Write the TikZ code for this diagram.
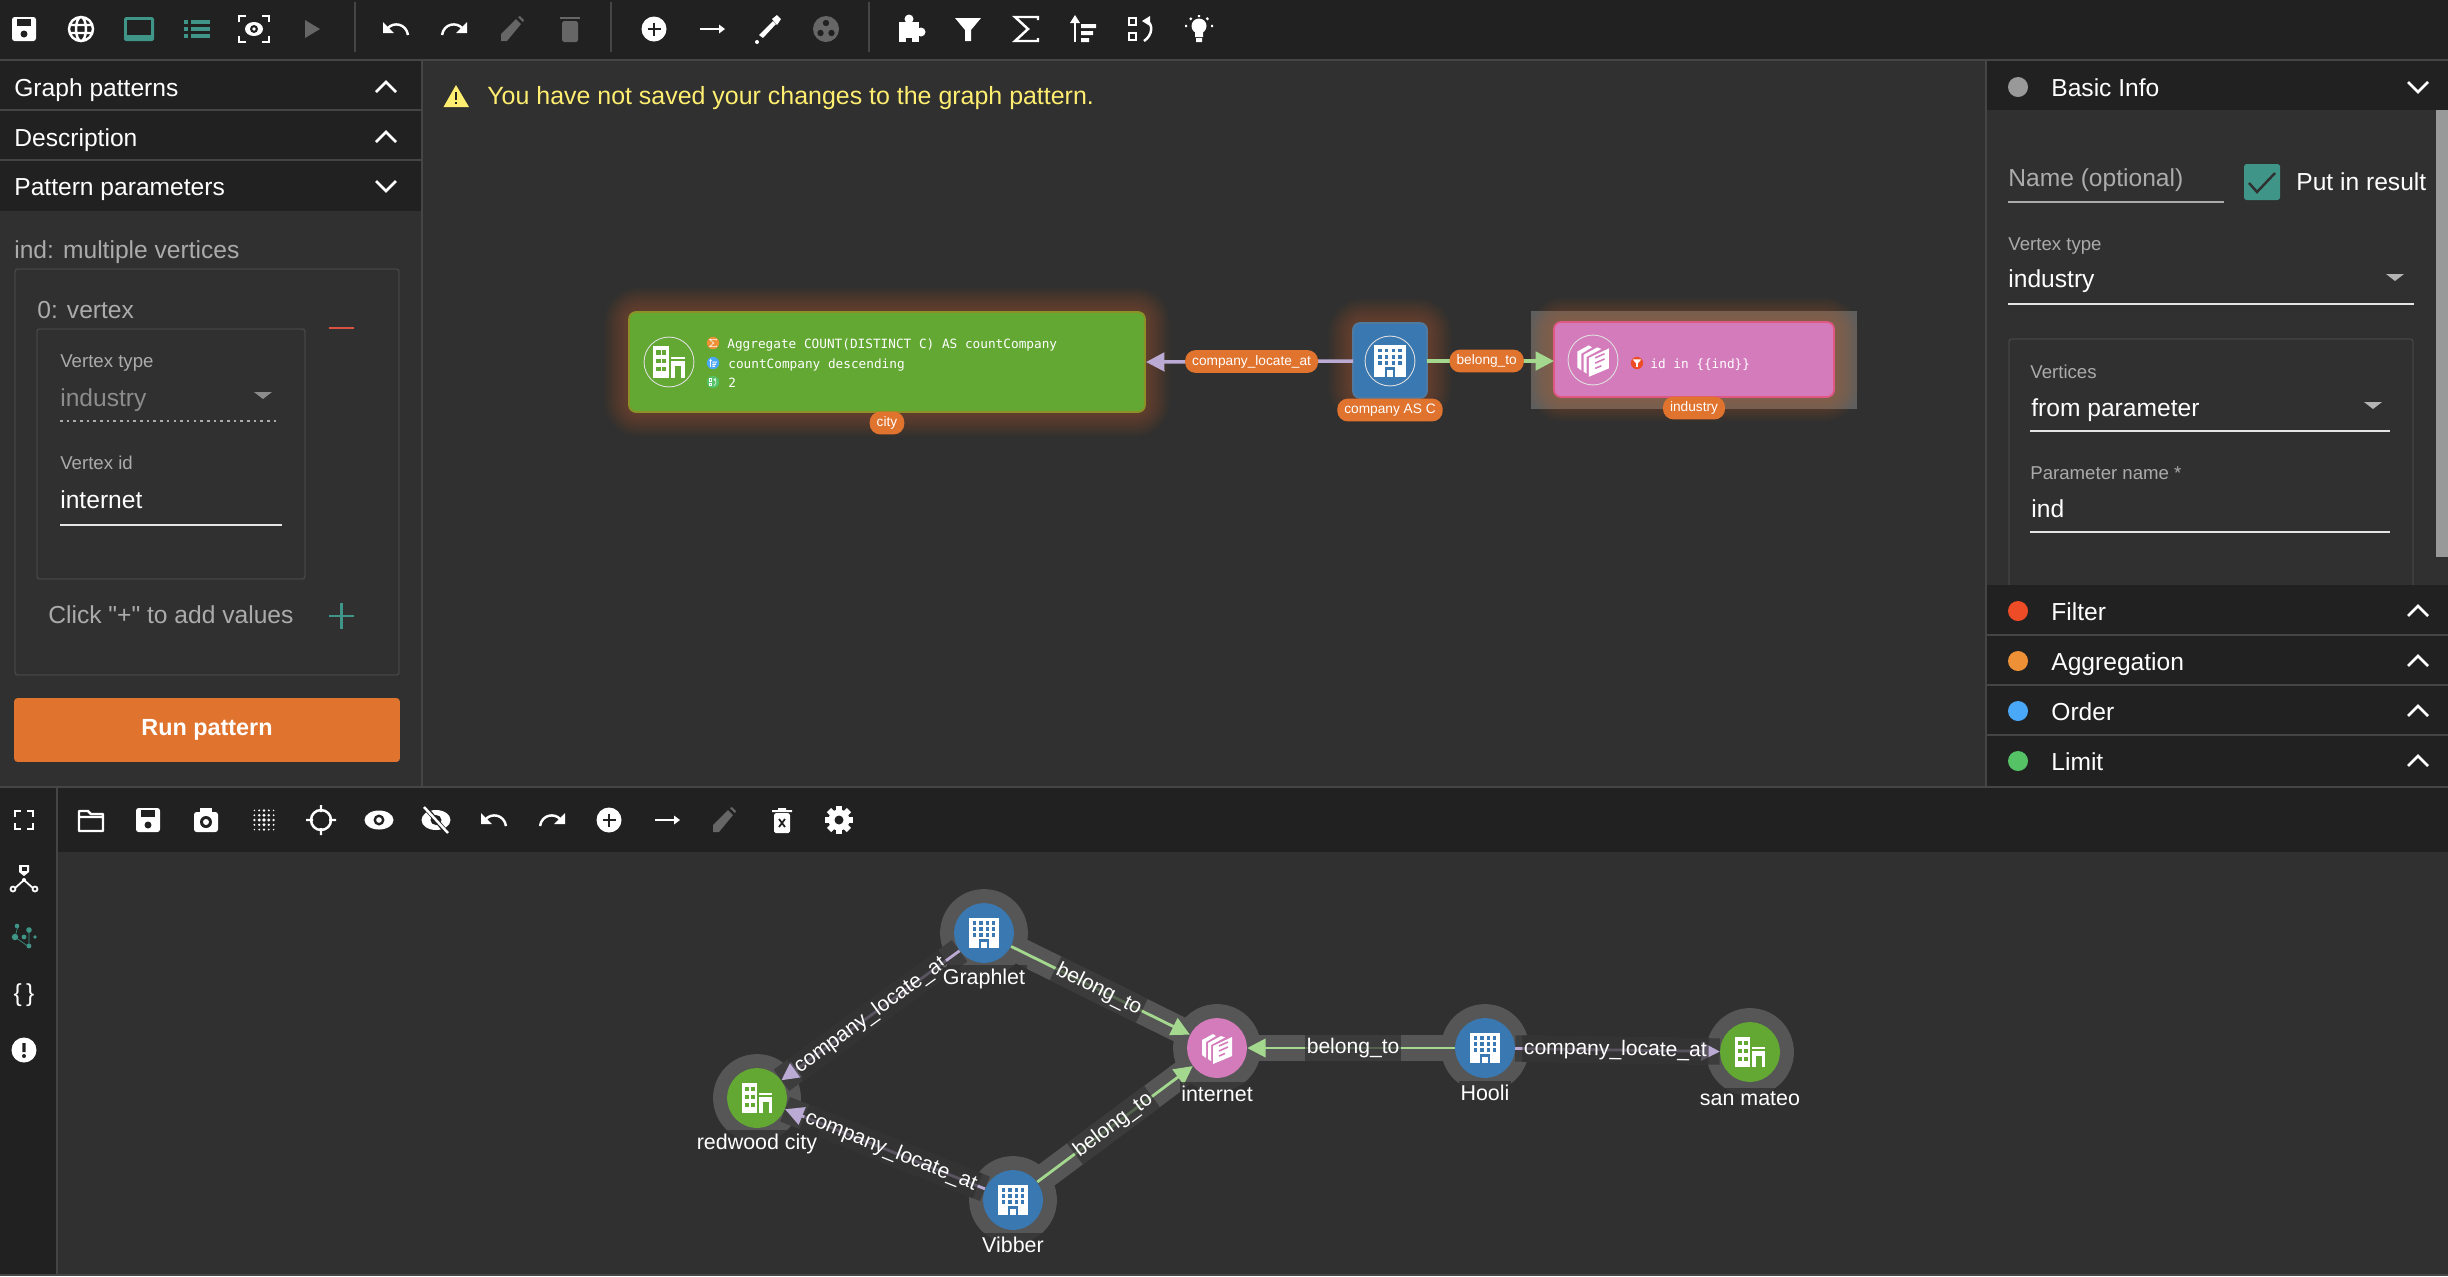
\documentclass[tikz,border=0pt]{standalone}
\usepackage{fontspec}
\setmainfont{Liberation Sans}[Ligatures=TeXOff]
\setmonofont{DejaVu Sans Mono}
\usetikzlibrary{arrows.meta}

\definecolor{canvasbg}{HTML}{303030}
\definecolor{barbg}{HTML}{212121}
\definecolor{rulegrey}{HTML}{454545}
\definecolor{dimtext}{HTML}{ABABAB}
\definecolor{icongrey}{HTML}{666666}
\definecolor{tealui}{HTML}{3F9688}
\definecolor{runorange}{HTML}{E0732D}
\definecolor{warnyellow}{HTML}{FFEE70}
\definecolor{citygreen}{HTML}{62A832}
\definecolor{companyblue}{HTML}{3A78B1}
\definecolor{industrypink}{HTML}{D47CBB}
\definecolor{belongline}{HTML}{A5D88F}
\definecolor{locateline}{HTML}{BAAAD4}
\definecolor{haloband}{HTML}{565656}
\definecolor{darkband}{HTML}{3D3D3D}
\definecolor{filterdotcol}{HTML}{EE4C27}
\definecolor{aggdotcol}{HTML}{EE9035}
\definecolor{orderdotcol}{HTML}{4AA8F8}
\definecolor{limitdotcol}{HTML}{55C266}
\definecolor{minusred}{HTML}{DC5240}
\colorlet{cutcol}{barbg}

\tikzset{
    iconline/.style={line width=1.4pt},
    basetext/.style={inner sep=0pt, anchor=west, text height=.75em, text depth=.22em},
    headtext/.style={basetext, yshift=-2.6pt, text=white, font=\fontsize{14}{16}\selectfont},
    dimhead/.style={basetext, yshift=-2.6pt, text=dimtext, font=\fontsize{14}{16}\selectfont},
    smalltext/.style={basetext, yshift=-1.3pt, text=dimtext, font=\fontsize{10.6}{12}\selectfont},
    glowline/.style={draw=runorange, opacity=.028, rounded corners=6pt},
    pill/.style={fill=runorange, text=white, rounded corners=6pt, inner xsep=4pt, inner ysep=0pt,
        minimum height=13pt, font=\fontsize{7.8}{9}\selectfont},
    monotext/.style={basetext, yshift=-.5pt, text=white, font=\fontsize{7.25}{9}\ttfamily},
    patternbox/.style={rounded corners=4pt, line width=1pt},
    iconring/.style={circle, draw=white!75!gray, line width=.5pt, minimum size=28.4pt, inner sep=0pt},
    minidot/.style={circle, minimum size=7pt, inner sep=0pt},
    rowdot/.style={circle, minimum size=11.4pt, inner sep=0pt},
    patternedge/.style={line width=2pt, -{Stealth[inset=0pt,length=10.5pt,width=10.5pt]}},
    vertexdisc/.style={circle, minimum size=34pt, inner sep=0pt},
    halodisc/.style={circle, fill=haloband, minimum size=50pt, inner sep=0pt},
    vertexlabel/.style={yshift=-.3pt, fill=canvasbg, fill opacity=.75, text opacity=1, text=white, inner xsep=1pt, inner ysep=2pt,
        font=\fontsize{12.2}{14}\selectfont},
    edgeband/.style={line width=15pt},
    vertexedge/.style={line width=1.6pt, -{Stealth[inset=0pt,length=10.5pt,width=10.5pt]}},
    edgelabel/.style={sloped, fill=canvasbg, fill opacity=.7, text opacity=1, text=white, inner xsep=1pt, inner ysep=0pt,
        minimum height=15pt, font=\fontsize{12}{14}\selectfont},
    % toolbar glyphs
    pics/savedisk/.style={code={
        \fill[rounded corners=1.5pt] (-12,-12) rectangle (12,12);
        \fill[barbg] (-7,-10) rectangle (7,-3);
        \fill[barbg] (0,5) circle (3.5);}},
    pics/globeicon/.style={code={
        \draw[iconline] (0,0) circle (12) (0,0) ellipse (5 and 12) (-12,-4) -- (12,-4) (-12,4) -- (12,4);}},
    pics/screenicon/.style={code={
        \fill[rounded corners=1pt] (-15,-12) rectangle (15,12);
        \fill[barbg] (-12,-9) rectangle (12,6);}},
    pics/listicon/.style={code={
        \foreach \ly in {-7,0,7} {
            \fill (-13,\ly-1.7) rectangle (-9,\ly+1.7);
            \fill (-6,\ly-1.7) rectangle (13,\ly+1.7);}}},
    pics/focusicon/.style={code={
        \draw[iconline] (-15,-7) -- (-15,-13) -- (-8,-13) (8,-13) -- (15,-13) -- (15,-7)
            (15,7) -- (15,13) -- (8,13) (-8,13) -- (-15,13) -- (-15,7);
        \fill (0,0) ellipse (9 and 7);
        \fill[barbg] (0,0) circle (4);
        \fill (0,0) circle (1.8);}},
    pics/playicon/.style={code={\fill (-7,-9) -- (8,0) -- (-7,9) -- cycle;}},
    pics/undoicon/.style={code={
        \draw[iconline] (12,6) .. controls (10,-6) and (-3,-7) .. (-8,-1);
        \fill (-13,-7) -- (-13,4) -- (-2,4) -- cycle;}},
    pics/redoicon/.style={code={
        \draw[iconline] (-12,6) .. controls (-10,-6) and (3,-7) .. (8,-1);
        \fill (13,-7) -- (13,4) -- (2,4) -- cycle;}},
    pics/pencilicon/.style={code={
        \fill (-11,12) -- (-11,5) -- (4,-10) -- (9,-5) -- (-5,12) -- cycle;
        \fill (6,-12) -- (8,-13) -- (12,-9) -- (11,-7) -- cycle;}},
    pics/trashicon/.style={code={
        \fill[rounded corners=1pt] (-8,-8) rectangle (8,13);
        \fill (-10,-12) rectangle (10,-10);}},
    pics/plusdisc/.style={code={
        \fill (0,0) circle (12.5);
        \draw[barbg, iconline] (-6.5,0) -- (6.5,0) (0,-6.5) -- (0,6.5);}},
    pics/arrowicon/.style={code={
        \draw[iconline] (-12,0) -- (8,0);
        \fill (7,-4.5) -- (13,0) -- (7,4.5) -- cycle;}},
    pics/droppericon/.style={code={
        \fill (-9,6) -- (5,-8) -- (8,-5) -- (-5,9) -- cycle;
        \fill (4,-10) -- (9,-14) -- (13,-10) -- (9,-4) -- cycle;
        \fill (-11,13) circle (2);}},
    pics/paletteicon/.style={code={
        \fill (0,0) circle (13);
        \fill[barbg] (0,-6) circle (3.2) (-5.5,4) circle (3.2) (5.5,4) circle (3.2);}},
    pics/puzzleicon/.style={code={
        \fill (-11,-7) rectangle (9,13);
        \fill (-1,-10) circle (4.5);
        \fill (11,3) circle (4.5);
        \fill[barbg] (-4,9) rectangle (2,14);}},
    pics/funnelicon/.style={code={\fill (-13,-11) -- (13,-11) -- (3,1) -- (3,12) -- (-3,12) -- (-3,1) -- cycle;}},
    pics/sigmaicon/.style={code={\draw[iconline] (12,-9) -- (12,-12) -- (-11,-12) -- (2,0) -- (-11,12) -- (12,12) -- (12,9);}},
    pics/sorticon/.style={code={
        \draw[iconline] (-8,13) -- (-8,-6);
        \fill (-13,-6) -- (-8,-14) -- (-3,-6) -- cycle;
        \fill (-2,-5) rectangle (13,-1) (-2,2) rectangle (10,6) (-2,9) rectangle (6,13);}},
    pics/limiticon/.style={code={
        \draw[iconline] (-12,-11) rectangle (-5,-4) (-12,4) rectangle (-5,11);
        \draw[iconline] (3,12) .. controls (12,6) and (12,-5) .. (6,-8);
        \fill (1,-8) -- (9,-13) -- (9,-3) -- cycle;}},
    pics/bulbicon/.style={code={
        \fill (0,-3) circle (7.5);
        \fill (-4,3) rectangle (4,8) (-3,9) rectangle (3,13);
        \draw[iconline] (0,-14) -- (0,-12) (-12,-3) -- (-14,-3) (12,-3) -- (14,-3)
            (-9,-11) -- (-7.5,-9.5) (9,-11) -- (7.5,-9.5);}},
    pics/foldericon/.style={code={
        \draw[iconline, line join=round] (-12,-9) -- (-3,-9) -- (0,-6) -- (12,-6) -- (12,11) -- (-12,11) -- cycle (-12,-3) -- (12,-3);}},
    pics/cameraicon/.style={code={
        \fill[rounded corners=1.5pt] (-12,-8) rectangle (12,12);
        \fill (-6,-12) rectangle (6,-7);
        \fill[barbg] (0,2) circle (6);
        \fill (0,2) circle (3);}},
    pics/gridicon/.style={code={
        \foreach \gx in {-2,...,2} \foreach \gy in {-2,...,2} {
            \pgfmathsetmacro{\gr}{1.9-.28*(abs(\gx)+abs(\gy))}
            \fill (4.8*\gx,4.8*\gy) circle (\gr);}}},
    pics/crosshair/.style={code={
        \draw[iconline] (0,0) circle (10) (0,-15) -- (0,-8) (0,8) -- (0,15) (-15,0) -- (-8,0) (8,0) -- (15,0);}},
    pics/eyeicon/.style={code={
        \fill (0,0) ellipse (14.5 and 9.5);
        \fill[barbg] (0,0) circle (5.5);
        \fill (0,0) circle (2.8);}},
    pics/eyeofficon/.style={code={
        \fill (0,0) ellipse (14.5 and 10);
        \fill[barbg] (0,0) ellipse (5.5 and 5);
        \draw[barbg, line width=2.6pt] (-12,-14) -- (12,14);
        \draw[iconline] (-12,-13) -- (12,13);}},
    pics/binicon/.style={code={
        \fill[rounded corners=1pt] (-8,-7) rectangle (8,13);
        \fill (-10,-10) rectangle (10,-8) (-4,-12) rectangle (4,-10);
        \draw[barbg, line width=1pt] (-3,-1) -- (3,7) (3,-1) -- (-3,7);}},
    pics/gearicon/.style={code={
        \fill (0,0) circle (10.5);
        \foreach \ga in {0,45,...,315} \fill[rotate=\ga] (-3,-14) rectangle (3,-8);
        \fill[barbg] (0,0) circle (4.5);}},
    pics/expandicon/.style={code={
        \draw[iconline] (-9,-3) -- (-9,-9) -- (-3,-9) (3,-9) -- (9,-9) -- (9,-3)
            (9,3) -- (9,9) -- (3,9) (-3,9) -- (-9,9) -- (-9,3);}},
    pics/graphglyph/.style={code={
        \fill (-5,-14) -- (5,-14) -- (5,-7) -- (0,-3) -- (-5,-7) -- cycle;
        \fill[barbg] (-2.5,-12) rectangle (2.5,-8);
        \draw[line width=1pt] (-10,10) -- (0,1) -- (10,10);
        \draw[line width=1pt, fill=barbg] (-11,10) circle (2.5) (11,10) circle (2.5);
        \fill (0,1) circle (2);}},
    pics/clusterglyph/.style={code={
        \draw[line width=.35pt] (-6,-11) -- (-9,0) -- (5,10) -- (5,0) -- (5,-7);
        \fill (-7,-11) circle (2.3) (5,-7) circle (2.8) (-9,0) circle (3.2) (0,0) circle (2.4)
            (11,0) circle (1.8) (5,9) circle (2.4);}},
    pics/alerticon/.style={code={
        \fill (0,0) circle (12.5);
        \fill[barbg] (-1.7,-7) rectangle (1.7,2) (0,6) circle (2);}},
    pics/chevup/.style={code={\draw[line width=1.5pt] (-10,5) -- (0,-5) -- (10,5);}},
    pics/chevdown/.style={code={\draw[line width=1.5pt] (-10,-5) -- (0,5) -- (10,-5);}},
    % vertex glyphs, cut out in cutcol
    pics/companyicon/.style={code={
        \fill (-15,-15) rectangle (15,15);
        \foreach \wx in {-9.6,-3.2,3.2,9.6} \foreach \wy in {-10,-4,2}
            \fill[cutcol] (\wx-1.7,\wy-1.7) rectangle (\wx+1.7,\wy+1.7);
        \fill[cutcol] (-5,6) rectangle (5,15);
        \fill (-2.7,8.5) rectangle (2.7,15);}},
    pics/cityicon/.style={code={
        \fill (-15,-15) rectangle (0,15);
        \foreach \wx in {-10,-4.5} \foreach \wy in {-9,-1,7}
            \fill[cutcol] (\wx-2,\wy-2) rectangle (\wx+2,\wy+2);
        \fill (2,-5) rectangle (15,-3);
        \fill (2,-1) rectangle (15,15);
        \fill[cutcol] (5.5,4) rectangle (11.5,15);}},
    pics/industryicon/.style={code={
        \fill (-15,-8) -- (-4,-14) -- (-1,-12) -- (-11,-6) -- (-11,10) -- (-15,7) -- cycle;
        \fill (-9,-5) -- (4,-12) -- (8,-10.5) -- (-6,-3) -- (-6,13) -- (-9,11) -- cycle;
        \fill (-4,-2) -- (15,-11) -- (15,8) -- (-4,16) -- cycle;
        \draw[cutcol, line width=.9pt] (2,-2) -- (11,-6) (2,3) -- (11,-1) (2,8) -- (8,5.5);}},
}

\newcommand{\glowrect}[4]{
    \foreach \gw in {28,26,...,2}
        \draw[glowline, line width=\gw pt] (#1,#2) rectangle (#3,#4);
}

\begin{document}
\begin{tikzpicture}[x=0.02cm, y=-0.02cm]
    \useasboundingbox (0,0) rectangle (2448,1276);
    \fill[canvasbg] (0,0) rectangle (2448,1276);

    % bars
    \fill[barbg] (0,0) rectangle (2448,60);
    \fill[barbg] (0,60) rectangle (422,211);
    \fill[barbg] (1986,60) rectangle (2448,110);
    \fill[barbg] (1986,585) rectangle (2448,786);
    \fill[barbg] (0,787) rectangle (57,1276);
    \fill[barbg] (57,787) rectangle (2448,852);
    \draw[rulegrey, line width=1.2pt] (0,60) -- (2448,60) (0,787) -- (2448,787);
    \draw[rulegrey, line width=1.2pt] (422,60) -- (422,787) (1986,60) -- (1986,787) (57,787) -- (57,1276);
    \draw[rulegrey, line width=.8pt] (0,110) -- (422,110) (0,160) -- (422,160)
        (1986,635) -- (2448,635) (1986,685) -- (2448,685) (1986,735) -- (2448,735);
    \draw[rulegrey, line width=.8pt] (0,1275) -- (2448,1275);

    % top toolbar
    \draw[rulegrey, line width=.6pt] (355,2) -- (355,52) (611,2) -- (611,52) (869,2) -- (869,52);
    \foreach \ix/\ic in {24/savedisk,81/globeicon,396/undoicon,454/redoicon,654/plusdisc,712/arrowicon,
        768/droppericon,910/puzzleicon,968/funnelicon,1026/sigmaicon,1083/sorticon,1141/limiticon,1199/bulbicon}
        \pic[white] at (\ix,29) {\ic};
    \foreach \ix/\ic in {139/screenicon,197/listicon}
        \pic[tealui] at (\ix,29) {\ic};
    \pic[white] at (254,29) {focusicon};
    \foreach \ix/\ic in {312/playicon,512/pencilicon,570/trashicon,826/paletteicon}
        \pic[icongrey] at (\ix,29) {\ic};

    % bottom toolbar
    \foreach \ix/\ic in {91/foldericon,148/savedisk,206/cameraicon,264/gridicon,321/crosshair,379/eyeicon,
        436/eyeofficon,494/undoicon,552/redoicon,609/plusdisc,667/arrowicon,782/binicon,839/gearicon}
        \pic[white] at (\ix,820) {\ic};
    \pic[icongrey] at (724,820) {pencilicon};
    \pic[white] at (24,820) {expandicon};
    \pic[white] at (24,879) {graphglyph};
    \pic[tealui] at (24,937) {clusterglyph};
    \pic[white] at (24,1050) {alerticon};
    \node[headtext, anchor=center] (bracelabel) at (24,992) {\{\,\}};

    % left panel
    \foreach \ly/\ltext in {87/Graph patterns,137/Description,186/Pattern parameters}
        \node[headtext] (lefthead\ly) at (14,\ly) {\ltext};
    \pic[white] at (386,87) {chevup};
    \pic[white] at (386,137) {chevup};
    \pic[white] at (386,186) {chevdown};
    \node[dimhead] (paramname) at (14,249) {ind: multiple vertices};
    \draw[rulegrey, line width=.8pt, rounded corners=1.5pt] (15,269) rectangle (399,675);
    \node[dimhead] (paramindex) at (37,309) {0: vertex};
    \draw[rulegrey, line width=.8pt, rounded corners=1.5pt] (37,329) rectangle (305,579);
    \draw[minusred, line width=1.4pt] (329,328) -- (354,328);
    \node[smalltext] (vtypelabel) at (60,361) {Vertex type};
    \node[dimhead, text=dimtext!75!canvasbg] (vtypevalue) at (60,397) {industry};
    \fill[dimtext!75!canvasbg] (254,392) -- (272,392) -- (263,399) -- cycle;
    \draw[dimtext, dash pattern=on 1.5pt off 2.3pt, line width=.7pt] (60,421) -- (279,421);
    \node[smalltext] (vidlabel) at (60,463) {Vertex id};
    \node[headtext] (vidvalue) at (60,499) {internet};
    \draw[white!80!gray, line width=.7pt] (60,525) -- (282,525);
    \node[dimhead] (clickhint) at (48,614) {Click "+" to add values};
    \draw[tealui, line width=1.6pt] (329,616) -- (354,616) (341.5,603) -- (341.5,629);
    \node[fill=runorange, rounded corners=2pt, minimum width=219.6pt, minimum height=36.4pt, inner sep=0pt,
        text=white, font=\fontsize{13.3}{16}\selectfont\bfseries] (runbutton) at (207,730) {\raisebox{-1pt}{Run pattern}};

    % warning
    \fill[warnyellow] (456,85) -- (469,107) -- (443.5,107) -- cycle;
    \draw[barbg, line width=1.1pt] (456,92) -- (456,100) (456,102) -- (456,104);
    \node[headtext, text=warnyellow, font=\fontsize{14.2}{16}\selectfont] (warntext) at (487,95) {You have not saved your changes to the graph pattern.};

    % pattern boxes
    \fill[haloband!95!white] (1531,311) rectangle (1857,409);
    \glowrect{629}{312}{1145}{412}
    \glowrect{1353}{323}{1427}{398}
    \glowrect{1554}{322}{1834}{397}
    \path[fill=citygreen, draw=olive!60!citygreen, patternbox] (629,312) rectangle (1145,412);
    \path[fill=companyblue, draw=companyblue!70!gray, patternbox] (1353,323) rectangle (1427,398);
    \path[fill=industrypink, draw=red!30!industrypink, patternbox] (1554,322) rectangle (1834,397);
    \coordinate (citybox) at (1146,362);
    \coordinate (companyleft) at (1353,361);
    \coordinate (companyright) at (1427,361);
    \coordinate (industrybox) at (1554,361);

    \draw[patternedge, locateline] (companyleft) -- node[pill, pos=.49] (patternlocate) {company\_locate\_at} (citybox);
    \draw[patternedge, belongline] (companyright) -- node[pill, pos=.47] (patternbelong) {belong\_to} (industrybox);

    \node[iconring] (cityring) at (669,362) {};
    \node[iconring] (companyring) at (1390,361) {};
    \node[iconring] (industryring) at (1593,360) {};
    \colorlet{cutcol}{citygreen}
    \pic[white, scale=1.05] at (cityring) {cityicon};
    \colorlet{cutcol}{companyblue}
    \pic[white, scale=1.05] at (companyring) {companyicon};
    \colorlet{cutcol}{industrypink}
    \pic[white, scale=1.05] at (industryring) {industryicon};

    \node[minidot, fill=aggdotcol] (aggdot) at (713,343) {};
    \node[minidot, fill=orderdotcol] (orderdot) at (713,363) {};
    \node[minidot, fill=limitdotcol] (limitdot) at (713,382) {};
    \node[minidot, fill=filterdotcol] (filterdot) at (1637,363) {};
    \pic[white, scale=.3, iconline/.style={line width=.35pt}] at (aggdot) {sigmaicon};
    \pic[white, scale=.3, iconline/.style={line width=.35pt}] at (orderdot) {sorticon};
    \pic[white, scale=.3, iconline/.style={line width=.3pt}] at (limitdot) {limiticon};
    \pic[white, scale=.32] at (filterdot) {funnelicon};
    \node[monotext] (aggtext) at (727,343) {Aggregate COUNT(DISTINCT C) AS countCompany};
    \node[monotext] (ordertext) at (728,363) {countCompany descending};
    \node[monotext] (limittext) at (728,382) {2};
    \node[monotext] (filtertext) at (1650,363) {id in \{\{ind\}\}};

    \node[pill] (citypill) at (887,423) {city};
    \node[pill] (companypill) at (1390,410) {company AS C};
    \node[pill] (industrypill) at (1694,408) {industry};

    % right panel
    \node[rowdot, fill=gray!80!white] (basicdot) at (2018,87) {};
    \node[headtext] (basichead) at (2051,87) {Basic Info};
    \pic[white] at (2418,87) {chevdown};
    \fill[gray!80!white] (2436,110) rectangle (2448,557);
    \node[dimhead] (namelabel) at (2008,177) {Name (optional)};
    \draw[dimtext, line width=.7pt] (2008,202) -- (2224,202);
    \fill[tealui, rounded corners=1.5pt] (2244,164) rectangle (2280,200);
    \draw[canvasbg, line width=1.4pt] (2249,183) -- (2257,192) -- (2275,173);
    \node[headtext] (resultlabel) at (2296,181) {Put in result};
    \node[smalltext] (typelabel) at (2008,244) {Vertex type};
    \node[headtext] (typevalue) at (2008,278) {industry};
    \fill[dimtext!90!white] (2386,274) -- (2404,274) -- (2395,281) -- cycle;
    \draw[white!80!gray, line width=.7pt] (2008,304) -- (2414,304);
    \draw[rulegrey, line width=.8pt, rounded corners=1.5pt] (2009,585) -- (2009,339) -- (2413,339) -- (2413,585);
    \node[smalltext] (verticeslabel) at (2030,372) {Vertices};
    \node[headtext] (verticesvalue) at (2031,407) {from parameter};
    \fill[dimtext!90!white] (2364,402) -- (2382,402) -- (2373,409) -- cycle;
    \draw[white!80!gray, line width=.7pt] (2030,431) -- (2390,431);
    \node[smalltext] (parnamelabel) at (2030,473) {Parameter name *};
    \node[headtext] (parnamevalue) at (2031,508) {ind};
    \draw[white!80!gray, line width=.7pt] (2030,532) -- (2390,532);
    \foreach \ry/\rcol/\rtext in {611/filterdotcol/Filter,661/aggdotcol/Aggregation,
        711/orderdotcol/Order,761/limitdotcol/Limit} {
        \node[rowdot, fill=\rcol] (rowdot\ry) at (2018,\ry) {};
        \node[headtext] (rowhead\ry) at (2051,\ry) {\rtext};
        \pic[white] at (2418,\ry) {chevup};
    }

    % result graph
    \foreach \vname/\vx/\vy/\vcol in {graphlet/984/933/companyblue,redwood/757/1098/citygreen,
        internet/1217/1048/industrypink,vibber/1013/1200/companyblue,hooli/1485/1048/companyblue,
        sanmateo/1750/1052/citygreen} {
        \node[halodisc] (\vname halo) at (\vx,\vy) {};
        \node[vertexdisc, fill=\vcol] (\vname) at (\vx,\vy) {};
    }
    \foreach \src/\dst/\lbl/\linecol/\bandcol/\where in {
        graphlet/redwood/company\_locate\_at/locateline/darkband/.5,
        vibber/redwood/company\_locate\_at/locateline/darkband/.47,
        graphlet/internet/belong\_to/belongline/haloband/.49,
        vibber/internet/belong\_to/belongline/haloband/.49,
        hooli/internet/belong\_to/belongline/haloband/.49,
        hooli/sanmateo/company\_locate\_at/locateline/darkband/.49} {
        \draw[edgeband, \bandcol] (\src) -- (\dst);
        \draw[vertexedge, \linecol] (\src) -- node[edgelabel, pos=\where] {\lbl} (\dst);
    }
    \foreach \vname/\vx/\vy/\vicon/\vcol in {graphlet/984/933/companyicon/companyblue,redwood/757/1098/cityicon/citygreen,
        internet/1217/1048/industryicon/industrypink,vibber/1013/1200/companyicon/companyblue,
        hooli/1485/1048/companyicon/companyblue,sanmateo/1750/1052/cityicon/citygreen} {
        \colorlet{cutcol}{\vcol}
        \pic[white] at (\vname) {\vicon};
    }
    \foreach \lname/\lx/\ly/\ltext in {graphlet/984/978/Graphlet,redwood/757/1143/redwood city,internet/1217/1093/internet,
        vibber/1013/1244/Vibber,hooli/1485/1092/Hooli,sanmateo/1750/1098/san mateo}
        \node[vertexlabel] (\lname label) at (\lx,\ly) {\ltext};
\end{tikzpicture}
\end{document}
